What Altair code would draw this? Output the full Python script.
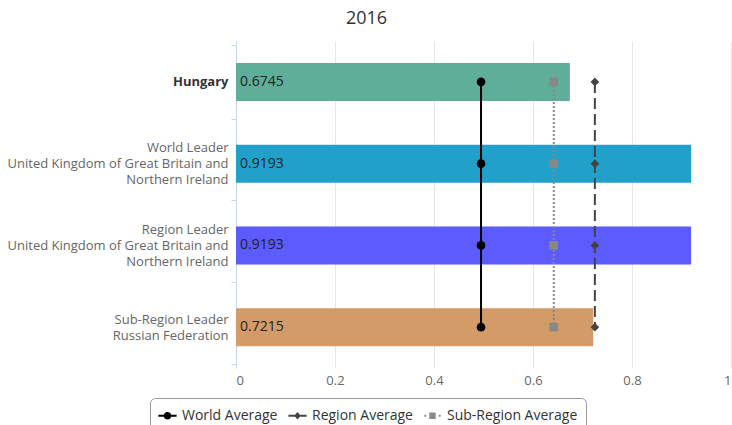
import altair as alt
import pandas as pd

categories = [
    "Hungary",
    "World Leader|United Kingdom of Great Britain and|Northern Ireland",
    "Region Leader|United Kingdom of Great Britain and|Northern Ireland",
    "Sub-Region Leader|Russian Federation",
]
bar_values = [0.6745, 0.9193, 0.9193, 0.7215]
bar_colors = ["#5fae99", "#21a0c9", "#5b5bff", "#d39b67"]

series = ["World Average", "Region Average", "Sub-Region Average"]
series_values = [0.495, 0.725, 0.642]
series_colors = ["#000000", "#444444", "#888888"]
series_shapes = ["circle", "diamond", "square"]
series_dash = [[1, 0], [11, 5], [2, 2]]
legend_paths = [
    "M-1,-0.1L1,-0.1L1,0.1L-1,0.1Z M-0.42,0A0.42,0.42 0 1,1 0.42,0A0.42,0.42 0 1,1 -0.42,0Z",
    "M-1,-0.1L1,-0.1L1,0.1L-1,0.1Z M0,-0.42L0.36,0L0,0.42L-0.36,0Z",
    "M-0.35,-0.35L0.35,-0.35L0.35,0.35L-0.35,0.35Z M-0.9,-0.1L-0.7,-0.1L-0.7,0.1L-0.9,0.1Z M0.7,-0.1L0.9,-0.1L0.9,0.1L0.7,0.1Z",
]

FONT = "Open Sans"

bars_df = pd.DataFrame({"cat": categories, "val": bar_values})
avg_rows = []
for s, v in zip(series, series_values):
    for i, c in enumerate(categories):
        avg_rows.append({"series": s, "cat": c, "val": v, "idx": i})
avg_df = pd.DataFrame(avg_rows)

label_offset = {
    "condition": [
        {"test": "isValid(datum.value) && indexof(datum.value, 'Leader|United') >= 0", "value": -16},
        {"test": "isValid(datum.value) && indexof(datum.value, '|') >= 0", "value": -8},
    ],
    "value": 0,
}

y_enc = alt.Y(
    "cat:N",
    sort=categories,
    title=None,
    scale=alt.Scale(domain=categories),
    axis=alt.Axis(
        labelExpr="isValid(datum.value) ? split(datum.value, '|') : ''",
        labelLimit=400,
        labelFontSize=13,
        labelLineHeight=16,
        labelOffset=label_offset,
        labelColor=alt.condition("datum.value == 'Hungary'", alt.value("#333333"), alt.value("#666666")),
        labelFontWeight=alt.condition("datum.value == 'Hungary'", alt.value("bold"), alt.value("normal")),
        labelPadding=3,
        tickSize=5,
        tickBand="extent",
        tickColor="#ccd6eb",
        domainColor="#ccd6eb",
        grid=False,
    ),
)
x_enc = alt.X(
    "val:Q",
    title=None,
    scale=alt.Scale(domain=[0, 1], nice=False),
    axis=alt.Axis(
        values=[0, 0.2, 0.4, 0.6, 0.8, 1],
        format=".1~f",
        labelFontSize=13,
        labelColor="#666666",
        labelPadding=6,
        ticks=False,
        domain=False,
        grid=True,
        gridColor="#e6e6e6",
    ),
)

bars = alt.Chart(bars_df).mark_bar(size=38).encode(
    y=y_enc,
    x=x_enc,
    color=alt.Color("cat:N", scale=alt.Scale(domain=categories, range=bar_colors), legend=None),
)

labels = alt.Chart(bars_df).mark_text(align="left", dx=4, fontSize=14, font=FONT, color="#222222").encode(
    y=alt.Y("cat:N", sort=categories),
    x=alt.datum(0),
    text=alt.Text("val:Q", format=".4f"),
)

lines = alt.Chart(avg_df).mark_line(strokeWidth=2).encode(
    y=alt.Y("cat:N", sort=categories),
    x=alt.X("val:Q"),
    detail="series:N",
    order=alt.Order("idx:Q"),
    color=alt.Color("series:N", scale=alt.Scale(domain=series, range=series_colors), legend=None),
    strokeDash=alt.StrokeDash("series:N", scale=alt.Scale(domain=series, range=series_dash), legend=None),
)

points = alt.Chart(avg_df).mark_point(filled=True, size=75, opacity=1).encode(
    y=alt.Y("cat:N", sort=categories),
    x=alt.X("val:Q"),
    color=alt.Color("series:N", scale=alt.Scale(domain=series, range=series_colors), legend=None),
    shape=alt.Shape("series:N", scale=alt.Scale(domain=series, range=series_shapes), legend=None),
)

legend_cfg = dict(
    title=None,
    orient="none",
    direction="horizontal",
    legendX=-86,
    legendY=357,
    strokeColor="#999999",
    cornerRadius=5,
    padding=8,
    fillColor="#ffffff",
    labelFontSize=14,
    labelColor="#333333",
    labelFont=FONT,
    symbolSize=330,
    symbolStrokeWidth=0,
    symbolOpacity=1,
    columnPadding=10,
    labelOffset=5,
)

legend_layer = alt.Chart(avg_df).mark_point(filled=True, opacity=0).encode(
    y=alt.Y("cat:N", sort=categories),
    x=alt.X("val:Q"),
    color=alt.Color("series:N", scale=alt.Scale(domain=series, range=series_colors),
                    legend=alt.Legend(**legend_cfg)),
    shape=alt.Shape("series:N", scale=alt.Scale(domain=series, range=legend_paths),
                    legend=alt.Legend(**legend_cfg)),
)

chart = (
    alt.layer(bars, labels, lines, points, legend_layer)
    .resolve_scale(color="independent", shape="independent", strokeDash="independent")
    .properties(
        width=495,
        height=327,
        title=alt.TitleParams("2016", fontSize=18, font=FONT, color="#333333", fontWeight="normal",
                              anchor="middle", dx=-117, offset=7),
        autosize=alt.AutoSizeParams(type="none"),
        padding={"left": 236, "top": 41, "right": 1, "bottom": 57},
    )
    .configure(font=FONT)
    .configure_view(stroke=None)
)

chart.save("out.html", embed_options={"renderer": "svg", "actions": False})
